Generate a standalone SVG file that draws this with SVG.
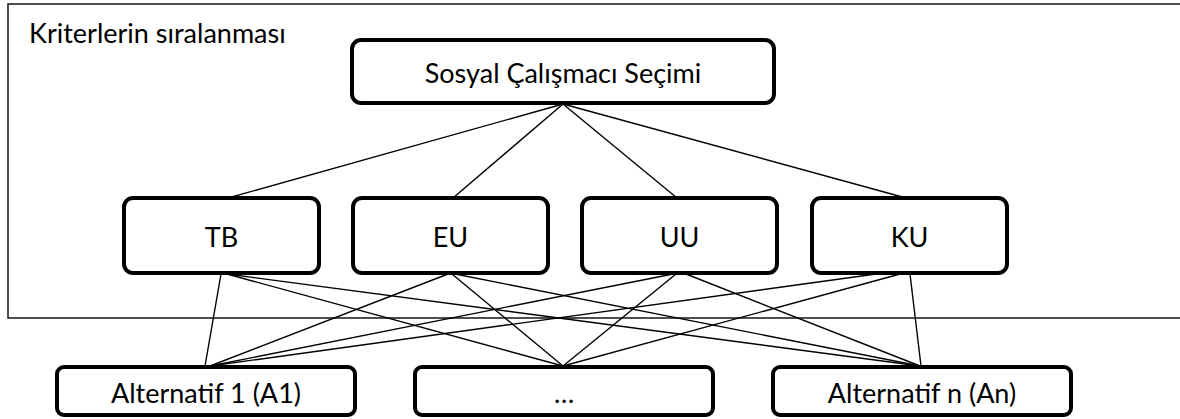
<svg xmlns="http://www.w3.org/2000/svg" width="1180" height="419" viewBox="0 0 1180 419">
<style>
.box{fill:#fff;stroke:#000;stroke-width:4}
.lbl{font-family:Lato,"Open Sans",sans-serif;font-size:27px;fill:#000;text-anchor:middle}
.con line{stroke:#000;stroke-width:1.4}
</style>
<rect x="0" y="0" width="1180" height="419" fill="#fff"/>
<g id="frame">
<rect x="8" y="4" width="1190" height="314" fill="none" stroke="#222" stroke-width="1.6"/>
<text x="29" y="43" class="lbl" style="text-anchor:start">Kriterlerin sıralanması</text>
</g>
<g id="connectors" class="con">
<line x1="563" y1="104" x2="228" y2="198"/>
<line x1="563" y1="104" x2="453" y2="198"/>
<line x1="563" y1="104" x2="677" y2="198"/>
<line x1="563" y1="104" x2="906" y2="198"/>
<line x1="221" y1="274" x2="205" y2="366"/>
<line x1="227" y1="274" x2="563" y2="366"/>
<line x1="227" y1="274" x2="920" y2="366"/>
<line x1="448" y1="274" x2="210" y2="366"/>
<line x1="452" y1="274" x2="563" y2="366"/>
<line x1="455" y1="274" x2="920" y2="366"/>
<line x1="673" y1="274" x2="210" y2="366"/>
<line x1="676" y1="274" x2="563" y2="366"/>
<line x1="686" y1="274" x2="920" y2="366"/>
<line x1="876" y1="274" x2="210" y2="366"/>
<line x1="900" y1="274" x2="563" y2="366"/>
<line x1="910" y1="274" x2="921" y2="366"/>
</g>
<g id="goal">
<rect class="box" x="352" y="40" width="422" height="63" rx="9"/>
<text class="lbl" x="563" y="83">Sosyal Çalışmacı Seçimi</text>
</g>
<g id="TB">
<rect class="box" x="124" y="198" width="195" height="75" rx="9"/>
<text class="lbl" x="221.5" y="247">TB</text>
</g>
<g id="EU">
<rect class="box" x="353" y="198" width="195" height="75" rx="9"/>
<text class="lbl" x="450.5" y="247">EU</text>
</g>
<g id="UU">
<rect class="box" x="582" y="198" width="195" height="75" rx="9"/>
<text class="lbl" x="679.5" y="247">UU</text>
</g>
<g id="KU">
<rect class="box" x="812" y="198" width="195" height="75" rx="9"/>
<text class="lbl" x="909.5" y="247">KU</text>
</g>
<g id="A1">
<rect class="box" x="57" y="367" width="298" height="48" rx="7"/>
<text class="lbl" x="206" y="403">Alternatif 1 (A1)</text>
</g>
<g id="Adots">
<rect class="box" x="415" y="367" width="298" height="48" rx="7"/>
<text class="lbl" x="564" y="403">…</text>
</g>
<g id="An">
<rect class="box" x="773" y="367" width="298" height="48" rx="7"/>
<text class="lbl" x="922" y="403">Alternatif n (An)</text>
</g>
</svg>
